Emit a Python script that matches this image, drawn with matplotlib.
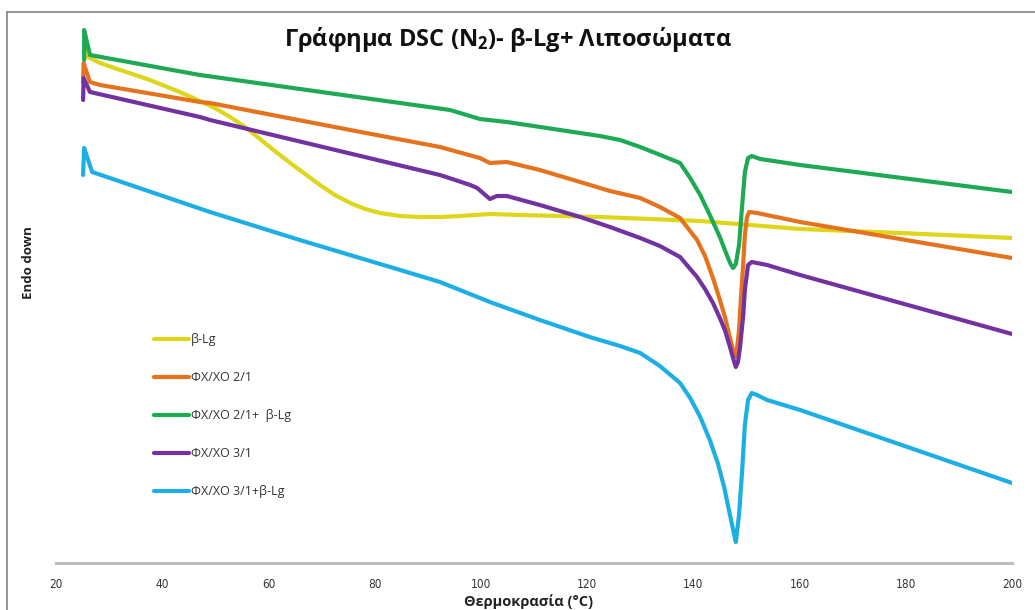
import matplotlib
matplotlib.use("Agg")
import matplotlib.pyplot as plt
from matplotlib.lines import Line2D

plt.rcParams['font.family'] = ['Open Sans', 'DejaVu Sans']
plt.rcParams['mathtext.fontset'] = 'custom'
plt.rcParams['mathtext.rm'] = 'Open Sans:bold'
plt.rcParams['mathtext.it'] = 'Open Sans:bold'
plt.rcParams['mathtext.bf'] = 'Open Sans:bold'

# DSC heat-flow curves (arbitrary units, endo down) vs temperature (°C)
t_blg = [25.3, 26.0, 28.3, 32.1, 37.7, 43.3, 47.1, 49.9, 52.8, 55.6, 58.4, 61.2,
         64.1, 66.9, 69.7, 72.5, 75.4, 78.2, 81.0, 84.8, 88.5, 92.3, 96.1, 101.7,
         107.4, 122.4, 141.3, 160.1, 178.9, 200.0]
hf_blg = [51.5, 50.6, 50.0, 49.3, 48.3, 47.1, 46.2, 45.5, 44.6, 43.6, 42.4, 41.2,
          40.0, 38.9, 37.8, 36.8, 36.0, 35.4, 35.0, 34.7, 34.6, 34.6, 34.7, 34.9,
          34.8, 34.6, 34.2, 33.4, 33.0, 32.5]

t_px21 = [25.1, 25.2, 26.4, 28.3, 47.1, 49.0, 75.4, 92.3, 99.8, 101.7, 104.9, 111.1,
          118.7, 124.3, 130.0, 133.7, 137.5, 140.7, 142.2, 143.7, 145.0, 146.0,
          146.9, 147.5, 147.8, 148.2, 148.6, 149.0, 149.4, 149.7, 150.1, 150.5,
          152.0, 160.1, 200.0]
hf_px21 = [48.1, 50.0, 48.1, 47.8, 46.1, 46.0, 43.3, 41.6, 40.5, 40.0, 40.1, 39.3,
           38.1, 37.2, 36.5, 35.6, 34.5, 32.3, 30.7, 28.5, 26.3, 24.5,
           22.5, 21.3, 20.6, 21.3, 23.3, 26.8, 30.0, 32.8, 34.6, 35.1,
           35.0, 34.1, 30.5]

t_px21_blg = [25.3, 25.3, 26.4, 47.1, 94.2, 99.8, 104.9, 122.4, 126.2, 130.0, 133.8,
              137.5, 139.4, 141.3, 143.1, 145.0, 146.3, 147.1, 147.5, 148.0, 148.6,
              149.2, 149.7, 150.3, 151.0, 152.6, 160.1, 200.0]
hf_px21_blg = [50.3, 53.3, 50.8, 48.8, 45.3, 44.4, 44.1, 42.7, 42.3, 41.6, 40.8,
               40.0, 38.5, 36.8, 34.8, 32.6, 30.8, 29.8, 29.5, 29.9, 31.8,
               35.8, 39.1, 40.5, 40.7, 40.4, 39.8, 37.1]

t_px31 = [25.1, 25.2, 26.4, 47.1, 49.0, 92.3, 98.0, 99.3, 101.7, 103.0, 104.9, 111.1,
          118.7, 124.3, 130.0, 133.7, 137.5, 140.7, 142.2, 143.7, 145.0, 146.0,
          146.9, 147.7, 148.0, 148.4, 148.8, 149.4, 149.7, 150.3, 151.0, 153.9,
          160.1, 200.0]
hf_px31 = [46.3, 48.5, 47.1, 44.6, 44.3, 38.8, 37.8, 37.5, 36.4, 36.7, 36.7, 35.8,
           34.6, 33.6, 32.5, 31.7, 30.6, 28.6, 27.4, 26.0, 24.5, 23.2,
           21.6, 20.1, 19.6, 20.1, 21.6, 24.8, 27.3, 29.8, 30.1, 29.8,
           28.8, 22.9]

t_px31_blg = [25.1, 25.3, 26.8, 49.0, 65.9, 84.8, 92.3, 101.7, 111.1, 120.5,
              126.2, 130.0, 133.7, 137.5, 139.4, 141.3, 143.1, 144.6, 145.8, 146.7,
              147.5, 148.0, 148.6, 149.2, 149.7, 150.3, 151.0, 152.0, 153.9, 160.1,
              200.0]
hf_px31_blg = [38.8, 41.5, 39.1, 35.1, 32.3, 29.3, 28.1, 26.1, 24.3, 22.6,
               21.7, 21.0, 19.7, 18.0, 16.5, 14.6, 12.3, 10.0, 7.6, 5.3,
               3.3, 2.1, 4.8, 9.3, 13.8, 16.3, 17.0, 16.8, 16.3, 15.3,
               8.0]

labels = ['β-Lg', 'ΦΧ/ΧΟ 2/1', 'ΦΧ/ΧΟ 2/1+  β-Lg', 'ΦΧ/ΧΟ 3/1', 'ΦΧ/ΧΟ 3/1+β-Lg']
colors = ['#DDD61A', '#E5731E', '#1EAA55', '#7232A0', '#1DAFE4']
x_ticks = [20, 40, 60, 80, 100, 120, 140, 160, 180, 200]

series = [(t_blg, hf_blg), (t_px21, hf_px21), (t_px21_blg, hf_px21_blg),
          (t_px31, hf_px31), (t_px31_blg, hf_px31_blg)]

W, H = 1035, 610
fig = plt.figure(figsize=(W / 100, H / 100), dpi=100)
fig.patch.set_facecolor('white')

ax_left, ax_right, ax_bottom, ax_top = 56, 1012, 563, 12
ax = fig.add_axes([ax_left / W, (H - ax_bottom) / H,
                   (ax_right - ax_left) / W, (ax_bottom - ax_top) / H])

for (t, hf), lab, col in zip(series, labels, colors):
    ax.plot(t, hf, color=col, lw=3.0, label=lab, solid_joinstyle='round',
            solid_capstyle='round')

ax.set_xlim(20, 200)
ax.set_ylim(0, 55.1)
ax.set_xticks(x_ticks)
ax.set_xticklabels([str(v) for v in x_ticks],
                   fontfamily=['DejaVu Sans'], fontstretch='condensed',
                   fontsize=8.5, color='#333333')
ax.tick_params(axis='x', length=0, pad=11)
ax.set_yticks([])
for side in ['top', 'right', 'left']:
    ax.spines[side].set_visible(False)
ax.spines['bottom'].set_color('#BDBDBD')
ax.spines['bottom'].set_linewidth(2.2)
ax.set_facecolor('none')

leg = ax.legend(loc='upper left', bbox_to_anchor=(154 / W, 1 - 333 / H),
                bbox_transform=fig.transFigure, frameon=False, fontsize=9,
                handlelength=2.8, handletextpad=0.15, labelspacing=2.0,
                borderpad=0, borderaxespad=0)
for txt in leg.get_texts():
    txt.set_color('#333333')

fig.text(508 / W, 1 - 40 / H, 'Γράφημα DSC (N$_2$)- β-Lg+ Λιποσώματα',
         ha='center', va='center', fontsize=17, fontweight='bold', color='#111111')
fig.text(529 / W, 1 - 602 / H, 'Θερμοκρασία (°C)', ha='center', va='center',
         fontsize=10.5, fontweight='bold', color='#222222')
fig.text(29 / W, 1 - 263 / H, 'Endo down', ha='center', va='center', rotation=90,
         fontsize=9.5, fontweight='bold', color='#222222')

# outer chart frame (top and left edges)
fig.add_artist(Line2D([7 / W, 1.0], [1 - 12 / H, 1 - 12 / H],
                      transform=fig.transFigure, color='#8A8A8A', lw=1.3))
fig.add_artist(Line2D([7 / W, 7 / W], [0.0, 1 - 12 / H],
                      transform=fig.transFigure, color='#8A8A8A', lw=1.3))

fig.savefig('out.png', dpi=100, facecolor='white')
